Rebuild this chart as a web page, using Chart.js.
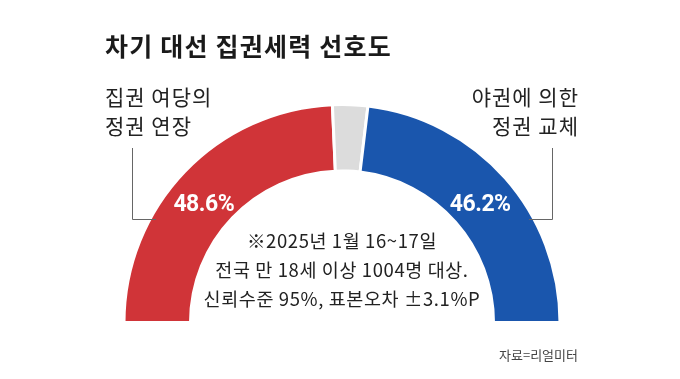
<!DOCTYPE html>
<html lang="ko">
<head>
<meta charset="utf-8">
<script src="https://cdn.jsdelivr.net/npm/chart.js@4.4.1/dist/chart.umd.min.js"></script>
<style>
  html, body { margin: 0; padding: 0; background: #ffffff; }
  #wrap { width: 680px; height: 379px; position: relative; }
</style>
</head>
<body>
<div id="wrap"><canvas id="c" width="680" height="379"></canvas></div>
<script>
// ---- data ----
const categories = ['집권 여당의 정권 연장', '기타', '야권에 의한 정권 교체'];
const shares = [48.6, 5.2, 46.2];
const labeledSlices = [true, false, true];
const sideLabelsLeft = ['집권 여당의', '정권 연장'];
const sideLabelsRight = ['야권에 의한', '정권 교체'];
const titleText = '차기 대선 집권세력 선호도';
const noteLines = ['※2025년 1월 16~17일', '전국 만 18세 이상 1004명 대상.', '신뢰수준 95%, 표본오차 ±3.1%P'];
const sourceText = '자료=리얼미터';

const KR = '"Noto Sans CJK KR", "Noto Sans", sans-serif';
const NUM = '"Roboto", "Noto Sans", sans-serif';

const textPlugin = {
  id: 'textPlugin',
  afterDraw(chart) {
    const ctx = chart.ctx;
    ctx.save();
    // title
    ctx.fillStyle = '#1a1a1a';
    ctx.textAlign = 'left';
    ctx.textBaseline = 'alphabetic';
    ctx.font = 'bold 25px ' + KR;
    ctx.letterSpacing = '1.2px';
    ctx.fillText(titleText, 105, 56);

    // side labels
    ctx.fillStyle = '#222222';
    ctx.font = '21px ' + KR;
    ctx.letterSpacing = '1px';
    ctx.textAlign = 'left';
    sideLabelsLeft.forEach((t, i) => ctx.fillText(t, 105, 105 + i * 29));
    ctx.textAlign = 'right';
    sideLabelsRight.forEach((t, i) => ctx.fillText(t, 579, 105 + i * 29));

    // leader lines
    ctx.strokeStyle = '#666666';
    ctx.lineWidth = 1;
    ctx.beginPath();
    ctx.moveTo(132.5, 148); ctx.lineTo(132.5, 219.5); ctx.lineTo(156, 219.5);
    ctx.moveTo(552.5, 148); ctx.lineTo(552.5, 219.5); ctx.lineTo(529, 219.5);
    ctx.stroke();

    // percentage labels on the arcs (placed at a common elevation)
    const meta = chart.getDatasetMeta(0);
    const props = meta.data.map(arc => arc.getProps(['x', 'y', 'startAngle', 'endAngle', 'innerRadius', 'outerRadius'], true));
    let elev = Infinity;
    props.forEach((p, i) => {
      if (!labeledSlices[i]) return;
      const a = (p.startAngle + p.endAngle) / 2;
      elev = Math.min(elev, Math.abs(Math.sin(a)));
    });
    ctx.fillStyle = '#ffffff';
    ctx.font = 'bold 23px ' + NUM;
    ctx.letterSpacing = '-0.5px';
    ctx.textAlign = 'center';
    ctx.textBaseline = 'middle';
    props.forEach((p, i) => {
      if (!labeledSlices[i]) return;
      const a = (p.startAngle + p.endAngle) / 2;
      const r = (p.innerRadius + p.outerRadius) / 2;
      const sx = Math.cos(a) < 0 ? -1 : 1;
      const ex = Math.sqrt(1 - elev * elev);
      ctx.fillText(shares[i].toFixed(1) + '%', p.x + sx * ex * r, p.y - elev * r + 5);
    });

    // note in the centre
    const c = props[0];
    ctx.fillStyle = '#222222';
    ctx.font = '18.5px ' + KR;
    ctx.letterSpacing = '0.6px';
    ctx.textAlign = 'center';
    ctx.textBaseline = 'alphabetic';
    noteLines.forEach((t, i) => ctx.fillText(t, c.x, 248 + i * 29));

    // source
    ctx.fillStyle = '#444444';
    ctx.font = '13px ' + KR;
    ctx.letterSpacing = '0px';
    ctx.textAlign = 'right';
    ctx.fillText(sourceText, 578, 360);
    ctx.restore();
  }
};

new Chart(document.getElementById('c'), {
  type: 'doughnut',
  data: {
    labels: categories,
    datasets: [{
      data: shares,
      backgroundColor: ['#d03438', '#dcdcdc', '#1a56ad'],
      borderColor: '#ffffff',
      borderWidth: 3
    }]
  },
  options: {
    responsive: false,
    animation: false,
    rotation: -90,
    circumference: 180,
    cutout: '69.5%',
    layout: { padding: { left: 121, right: 117, top: 103, bottom: 55 } },
    plugins: {
      legend: { display: false },
      tooltip: { enabled: false },
      title: { display: false }
    }
  },
  plugins: [textPlugin]
});
</script>
</body>
</html>
